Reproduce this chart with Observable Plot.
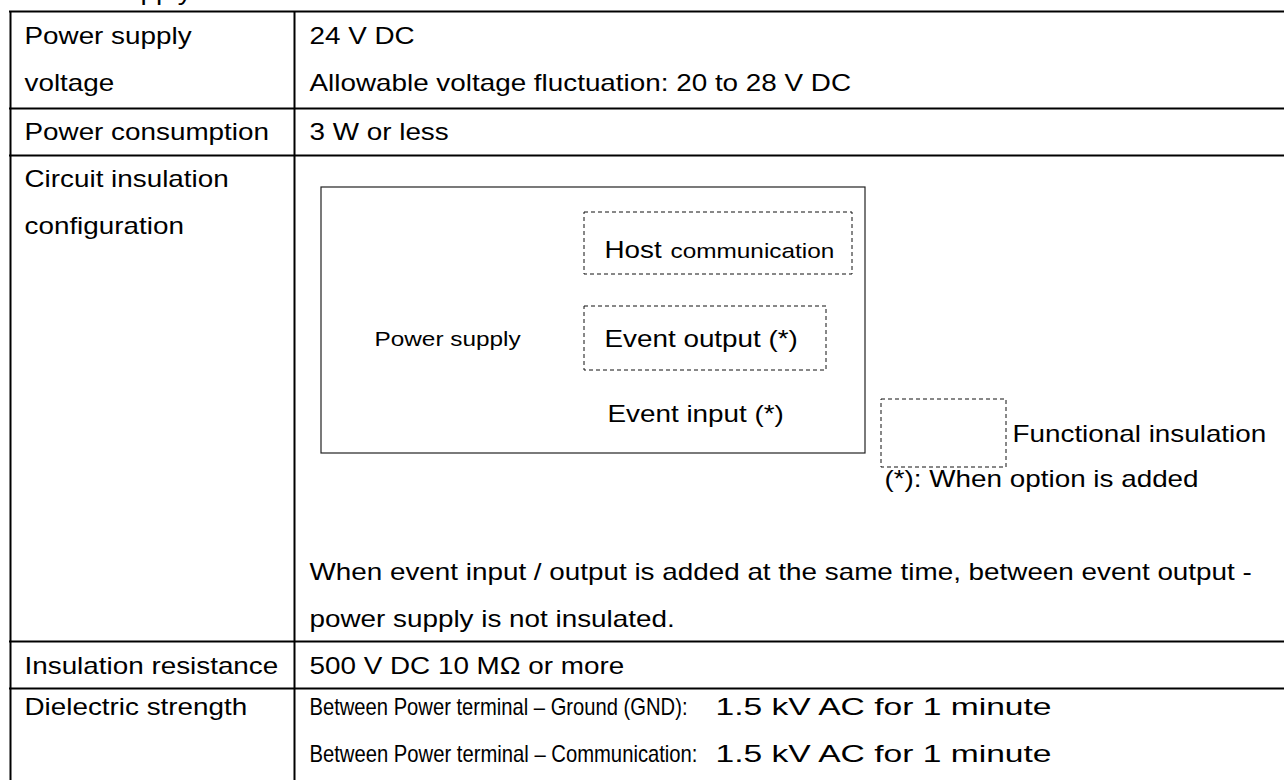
<!DOCTYPE html>
<html><head><meta charset="utf-8">
<script src="https://cdn.jsdelivr.net/npm/d3@7"></script>
<script src="https://cdn.jsdelivr.net/npm/@observablehq/plot@0.6"></script>
<style>html,body{margin:0;padding:0;background:#fff;overflow:hidden}</style>
</head><body><div id="chart"></div>
<script>
// ---------- DATA (texts only) ----------
const heading = "Power supply";
const rowLabels = [
  ["Power supply", "voltage"],
  ["Power consumption"],
  ["Circuit insulation", "configuration"],
  ["Insulation resistance"],
  ["Dielectric strength"]
];
const rowValues = [
  ["24 V DC", "Allowable voltage fluctuation: 20 to 28 V DC"],
  ["3 W or less"],
  [],
  ["500 V DC 10 MΩ or more"],
  ["Between Power terminal – Ground (GND):", "Between Power terminal – Communication:"]
];
const dielectricValues = ["1.5 kV AC for 1 minute", "1.5 kV AC for 1 minute"];
const insulationNote = [
  "When event input / output is added at the same time, between event output -",
  "power supply is not insulated."
];
const hostLabel = ["Host", "communication"];
const powerBlockLabel = "Power supply";
const eventOutputLabel = "Event output (*)";
const eventInputLabel = "Event input (*)";
const legendLabel = "Functional insulation";
const optionNote = "(*): When option is added";

// ---------- LAYOUT ----------
const W = 1284, H = 780;
const rowEdges = [11, 108, 155, 641, 688, 840];
const rowBaseline = [32, 31, 31, 32, 26];
const tableLeft = 10, colDivider = 294, tableRight = 1320;
const labelX = 24, valueX = 309, dielectricX = 715;
const lineStep = 47;
const FS = 24, FS_SMALL = 21, STRETCH = 1.16;
// fitted widths in the dielectric-strength row (condensed / widened in the source)
const fitWidths = {
  "Between Power terminal – Ground (GND):": 378,
  "Between Power terminal – Communication:": 388,
  "1.5 kV AC for 1 minute": 336
};
const box = {
  outer:  [321, 187, 865, 453],
  host:   [584, 212, 852, 274],
  evOut:  [584, 306, 826, 370],
  legend: [881, 399, 1006, 467]
};

// ---------- build mark data ----------
const hLines = rowEdges.map(y => ({x1: tableLeft - 1, x2: tableRight, y}));
const vLines = [tableLeft, colDivider].map(x => ({x, y1: rowEdges[0], y2: rowEdges[rowEdges.length - 1]}));

const texts = [];
texts.push({x: labelX, y: -1, t: heading});
rowLabels.forEach((lines, r) => lines.forEach((t, k) =>
  texts.push({x: labelX, y: rowEdges[r] + rowBaseline[r] + k * lineStep, t})));
rowValues.forEach((lines, r) => lines.forEach((t, k) =>
  texts.push({x: valueX, y: rowEdges[r] + rowBaseline[r] + k * lineStep, t})));
dielectricValues.forEach((t, k) =>
  texts.push({x: dielectricX, y: rowEdges[4] + rowBaseline[4] + k * lineStep, t}));
insulationNote.forEach((t, k) =>
  texts.push({x: valueX, y: rowEdges[3] - 15 - (insulationNote.length - 1 - k) * lineStep, t}));
texts.push({x: 604, y: 257, t: hostLabel[0]});
texts.push({x: 604, y: 346, t: eventOutputLabel});
texts.push({x: 607, y: 421, t: eventInputLabel});
texts.push({x: 1012, y: 441, t: legendLabel});
texts.push({x: 884, y: 486, t: optionNote});

const smallTexts = [
  {x: 670, y: 257, t: hostLabel[1]},
  {x: 374, y: 345, t: powerBlockLabel}
];

const rectOf = ([x1, y1, x2, y2]) => ({x1, y1, x2, y2});
const solidBoxes = [rectOf(box.outer)];
const dashedBoxes = [rectOf(box.host), rectOf(box.evOut), rectOf(box.legend)];

const plot = Plot.plot({
  width: W, height: H, margin: 0,
  x: {domain: [0, W], range: [0, W], axis: null},
  y: {domain: [0, H], range: [0, H], axis: null},
  style: {fontFamily: "'Liberation Sans', Arial, sans-serif", background: "#fff", color: "#000"},
  marks: [
    Plot.rect(solidBoxes, {x1: "x1", x2: "x2", y1: "y1", y2: "y2", fill: "none", stroke: "#222", strokeWidth: 1.2}),
    Plot.rect(dashedBoxes, {x1: "x1", x2: "x2", y1: "y1", y2: "y2", fill: "none", stroke: "#111", strokeWidth: 1, strokeDasharray: "4,3"}),
    Plot.ruleY(hLines, {y: "y", x1: "x1", x2: "x2", stroke: "#000", strokeWidth: 2.2}),
    Plot.ruleX(vLines, {x: "x", y1: "y1", y2: "y2", stroke: "#000", strokeWidth: 2}),
    Plot.text(texts, {x: "x", y: "y", text: "t", textAnchor: "start", lineAnchor: "bottom", fontSize: FS, fill: "#000"}),
    Plot.text(smallTexts, {x: "x", y: "y", text: "t", textAnchor: "start", lineAnchor: "bottom", fontSize: FS_SMALL, fill: "#000"})
  ]
});

// typography: glyphs are horizontally stretched in the source; some cells are fitted
plot.querySelectorAll("text").forEach(el => {
  const fit = fitWidths[el.textContent];
  if (fit) {
    el.setAttribute("textLength", fit);
    el.setAttribute("lengthAdjust", "spacingAndGlyphs");
    return;
  }
  const tr = el.getAttribute("transform");
  if (tr) el.setAttribute("transform", tr + ` scale(${STRETCH},1)`);
  else {
    const x = +el.getAttribute("x") || 0;
    el.setAttribute("x", x / STRETCH);
    el.setAttribute("transform", `scale(${STRETCH},1)`);
  }
});
document.getElementById("chart").appendChild(plot);
</script>
</body></html>
